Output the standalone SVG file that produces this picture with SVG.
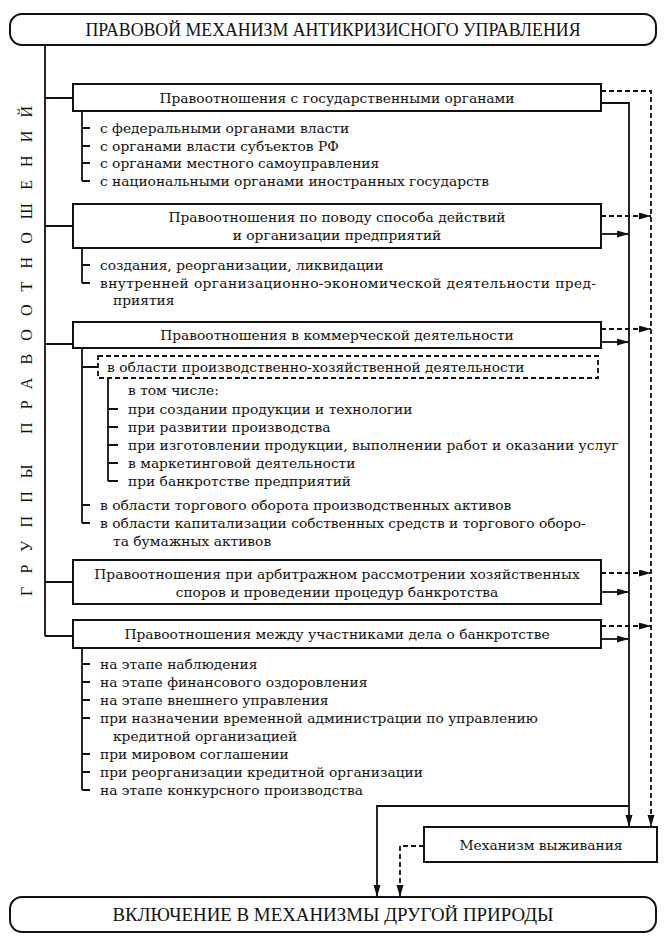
<svg xmlns="http://www.w3.org/2000/svg" width="664" height="938" viewBox="0 0 664 938">
<style>
.box{fill:#fff;stroke:#111;stroke-width:2}
.dbox{fill:none;stroke:#111;stroke-width:1.8;stroke-dasharray:5,3}
.ln{fill:none;stroke:#111;stroke-width:1.8}
.dl{fill:none;stroke:#111;stroke-width:1.8;stroke-dasharray:5,3}
.t{font-family:"DejaVu Serif","Liberation Serif",serif;font-size:13.8px;fill:#111}
.c{text-anchor:middle}
.cap{font-family:"Liberation Serif","DejaVu Serif",serif;font-size:18px;fill:#111;text-anchor:middle}
.vt{font-family:"Liberation Serif","DejaVu Serif",serif;font-size:16px;fill:#111;text-anchor:middle}
</style>
<defs>
<marker id="ar" markerUnits="userSpaceOnUse" markerWidth="13" markerHeight="8" refX="12" refY="3.5" orient="auto">
<path d="M0,0 L12,3.5 L0,7 z" fill="#111"/>
</marker>
</defs>

<g id="title">
<rect class="box" x="10" y="14" width="646" height="31" rx="12"/>
<text class="cap" x="333" y="36" textLength="495" lengthAdjust="spacingAndGlyphs">ПРАВОВОЙ МЕХАНИЗМ АНТИКРИЗИСНОГО УПРАВЛЕНИЯ</text>
</g>

<g id="groups-label">
<text class="vt" transform="translate(32,351) rotate(-90)" textLength="490" lengthAdjust="spacing">ГРУППЫ ПРАВООТНОШЕНИЙ</text>
</g>

<g id="connectors">
<path class="ln" d="M45,45 V636 M45,98 H73 M45,226 H73 M45,344 H73 M45,582 H73 M45,636 H73"/>
<path class="ln" d="M82,111 V181 M82,128 H90 M82,146 H90 M82,163 H90 M82,181 H90"/>
<path class="ln" d="M82,248 V283 M82,265 H90 M82,283 H90"/>
<path class="ln" d="M82,348 V523 M82,367 H98 M82,505 H90 M82,523 H90"/>
<path class="ln" d="M108,378 V481 M108,409 H118 M108,427 H118 M108,445 H118 M108,463 H118 M108,481 H118"/>
<path class="ln" d="M82,648 V790 M82,664 H90 M82,682 H90 M82,700 H90 M82,718 H90 M82,754 H90 M82,772 H90 M82,790 H90"/>
<path class="ln" d="M601,103 H629 V827" marker-end="url(#ar)"/>
<path class="ln" d="M601,234 H629" marker-end="url(#ar)"/>
<path class="ln" d="M601,342 H629" marker-end="url(#ar)"/>
<path class="ln" d="M601,592 H629" marker-end="url(#ar)"/>
<path class="ln" d="M601,639 H629" marker-end="url(#ar)"/>
<path class="dl" d="M601,91 H651 V827" marker-end="url(#ar)"/>
<path class="dl" d="M601,216 H651" marker-end="url(#ar)"/>
<path class="dl" d="M601,329 H651" marker-end="url(#ar)"/>
<path class="dl" d="M601,573 H651" marker-end="url(#ar)"/>
<path class="dl" d="M601,626 H651" marker-end="url(#ar)"/>
<path class="ln" d="M629,806 H377 V897" marker-end="url(#ar)"/>
<path class="dl" d="M424,846 H400 V897" marker-end="url(#ar)"/>
</g>

<g id="node1">
<rect class="box" x="73" y="84" width="528" height="27"/>
<text class="t c" x="337" y="103">Правоотношения с государственными органами</text>
<text class="t" x="100" y="133">с федеральными органами власти</text>
<text class="t" x="100" y="151">с органами власти субъектов РФ</text>
<text class="t" x="100" y="168">с органами местного самоуправления</text>
<text class="t" x="100" y="186">с национальными органами иностранных государств</text>
</g>

<g id="node2">
<rect class="box" x="73" y="204" width="528" height="44"/>
<text class="t c" x="337" y="222">Правоотношения по поводу способа действий</text>
<text class="t c" x="337" y="240">и организации предприятий</text>
<text class="t" x="100" y="270">создания, реорганизации, ликвидации</text>
<text class="t" x="100" y="288" textLength="496" lengthAdjust="spacing">внутренней организационно-экономической деятельности пред-</text>
<text class="t" x="113" y="305">приятия</text>
</g>

<g id="node3">
<rect class="box" x="73" y="322" width="528" height="26"/>
<text class="t c" x="337" y="340">Правоотношения в коммерческой деятельности</text>
</g>

<g id="node3a">
<rect class="dbox" x="98" y="356" width="500" height="22"/>
<text class="t" x="107" y="372">в области производственно-хозяйственной деятельности</text>
<text class="t" x="128" y="395">в том числе:</text>
<text class="t" x="128" y="414">при создании продукции и технологии</text>
<text class="t" x="128" y="432">при развитии производства</text>
<text class="t" x="128" y="450">при изготовлении продукции, выполнении работ и оказании услуг</text>
<text class="t" x="128" y="468">в маркетинговой деятельности</text>
<text class="t" x="128" y="486">при банкротстве предприятий</text>
<text class="t" x="100" y="510">в области торгового оборота производственных активов</text>
<text class="t" x="100" y="528">в области капитализации собственных средств и торгового оборо-</text>
<text class="t" x="113" y="546">та бумажных активов</text>
</g>

<g id="node4">
<rect class="box" x="73" y="560" width="528" height="44"/>
<text class="t c" x="337" y="579">Правоотношения при арбитражном рассмотрении хозяйственных</text>
<text class="t c" x="337" y="597">споров и проведении процедур банкротства</text>
</g>

<g id="node5">
<rect class="box" x="73" y="620" width="528" height="28"/>
<text class="t c" x="337" y="639">Правоотношения между участниками дела о банкротстве</text>
<text class="t" x="100" y="669">на этапе наблюдения</text>
<text class="t" x="100" y="687">на этапе финансового оздоровления</text>
<text class="t" x="100" y="705">на этапе внешнего управления</text>
<text class="t" x="100" y="723">при назначении временной администрации по управлению</text>
<text class="t" x="113" y="741">кредитной организацией</text>
<text class="t" x="100" y="759">при мировом соглашении</text>
<text class="t" x="100" y="777">при реорганизации кредитной организации</text>
<text class="t" x="100" y="795">на этапе конкурсного производства</text>
</g>

<g id="node-survival">
<rect class="box" x="424" y="827" width="233" height="35"/>
<text class="t c" x="541" y="850">Механизм выживания</text>
</g>

<g id="node-bottom">
<rect class="box" x="10" y="897" width="646" height="35" rx="12"/>
<text class="cap" x="333" y="921" textLength="441" lengthAdjust="spacingAndGlyphs">ВКЛЮЧЕНИЕ В МЕХАНИЗМЫ ДРУГОЙ ПРИРОДЫ</text>
</g>
</svg>
